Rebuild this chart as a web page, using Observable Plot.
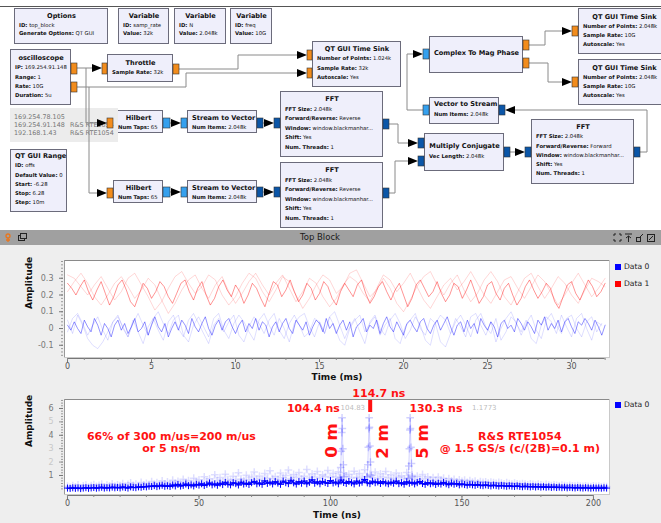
<!DOCTYPE html>
<html><head><meta charset="utf-8">
<script src="https://cdn.jsdelivr.net/npm/d3@7"></script>
<script src="https://cdn.jsdelivr.net/npm/@observablehq/plot@0.6"></script>
<style>
body{margin:0;background:#fff;}
#root{position:relative;width:661px;height:523px;overflow:hidden;font-family:"DejaVu Sans",sans-serif;background:#fff}
#flow{position:absolute;left:0;top:0;width:661px;height:230px;background:#fff;overflow:hidden}
.b{position:absolute;box-sizing:border-box;background:#efeffb;border:1px solid #6b6b7b;padding:3px 3px 0 4px;color:#111}
.t{font-weight:bold;font-size:6.6px;line-height:9.3px;text-align:center;white-space:nowrap}
.p{font-size:5.3px;line-height:9.3px;white-space:nowrap}
.info{position:absolute;left:10px;top:108px;width:108px;height:34px;background:#ececec;color:#777;font-size:6.4px;line-height:8px;padding:5px 0 0 4px;box-sizing:border-box;white-space:nowrap}
.info span{display:inline-block;width:56px}
#wires{position:absolute;left:0;top:0}
#qt{position:absolute;left:0;top:230px;width:661px;height:293px;background:#eeeeee}
#bar{position:absolute;left:0;top:230px;width:661px;height:15px;background:#a0a0a0;font-size:8.5px;color:#1a1a1a;line-height:15px}
#bar .ttl{position:absolute;left:0;width:640px;text-align:center}
.chart{position:absolute;left:0}
.lg{position:absolute;left:615px;font-size:7.6px;color:#222;line-height:10px;white-space:nowrap}
.lg i{display:inline-block;width:6px;height:6px;margin-right:3px;vertical-align:-0.5px}
</style></head>
<body><div id="root">
<div id="flow">
  <div style="position:absolute;left:0;top:6px;width:661px;height:1px;background:#555"></div>
  <div class="b" style="left:14px;top:8px;width:94px;height:36px;line-height:8.6px"><div class="t" style="line-height:8.6px">Options</div><div class="p" style="line-height:8.6px"><b>ID:</b> top_block</div><div class="p" style="line-height:8.6px"><b>Generate Options:</b> QT GUI</div></div>
  <div class="b" style="left:118px;top:8px;width:51px;height:36px"><div class="t" style="line-height:8.6px">Variable</div><div class="p" style="line-height:8.6px"><b>ID:</b> samp_rate</div><div class="p" style="line-height:8.6px"><b>Value:</b> 32k</div></div>
  <div class="b" style="left:174px;top:8px;width:52px;height:36px"><div class="t" style="line-height:8.6px">Variable</div><div class="p" style="line-height:8.6px"><b>ID:</b> N</div><div class="p" style="line-height:8.6px"><b>Value:</b> 2.048k</div></div>
  <div class="b" style="left:230px;top:8px;width:42px;height:36px"><div class="t" style="line-height:8.6px">Variable</div><div class="p" style="line-height:8.6px"><b>ID:</b> freq</div><div class="p" style="line-height:8.6px"><b>Value:</b> 10G</div></div>
  <div class="b" style="left:10px;top:49px;width:61px;height:56px;padding-top:4px"><div class="t">oscilloscope</div><div class="p"><b>IP:</b> 169.254.91.148</div><div class="p"><b>Range:</b> 1</div><div class="p"><b>Rate:</b> 10G</div><div class="p"><b>Duration:</b> 5u</div></div>
  <div class="b" style="left:107px;top:54px;width:66px;height:28px;padding-top:4px"><div class="t">Throttle</div><div class="p"><b>Sample Rate:</b> 32k</div></div>
  <div class="b" style="left:312px;top:41px;width:89px;height:46px;padding-top:3px"><div class="t">QT GUI Time Sink</div><div class="p"><b>Number of Points:</b> 1.024k</div><div class="p"><b>Sample Rate:</b> 32k</div><div class="p"><b>Autoscale:</b> Yes</div></div>
  <div class="b" style="left:429px;top:36px;width:94px;height:37px;padding-top:12px"><div class="t">Complex To Mag Phase</div></div>
  <div class="b" style="left:578px;top:8px;width:92px;height:46px;padding-top:3.5px"><div class="t" style="line-height:9px">QT GUI Time Sink</div><div class="p" style="line-height:9px"><b>Number of Points:</b> 2.048k</div><div class="p" style="line-height:9px"><b>Sample Rate:</b> 10G</div><div class="p" style="line-height:9px"><b>Autoscale:</b> Yes</div></div>
  <div class="b" style="left:578px;top:59px;width:92px;height:46px;padding-top:3.5px"><div class="t" style="line-height:9px">QT GUI Time Sink</div><div class="p" style="line-height:9px"><b>Number of Points:</b> 2.048k</div><div class="p" style="line-height:9px"><b>Sample Rate:</b> 10G</div><div class="p" style="line-height:9px"><b>Autoscale:</b> Yes</div></div>
  <div class="b" style="left:429px;top:97px;width:70px;height:27px;padding-top:2px"><div class="t" style="line-height:9.5px">Vector to Stream</div><div class="p" style="line-height:9.5px"><b>Num Items:</b> 2.048k</div></div>
  <div class="b" style="left:280px;top:91px;width:103px;height:66px;padding-top:3px"><div class="t" style="line-height:9.5px">FFT</div><div class="p" style="line-height:9.5px"><b>FFT Size:</b> 2.048k</div><div class="p" style="line-height:9.5px"><b>Forward/Reverse:</b> Reverse</div><div class="p" style="line-height:9.5px"><b>Window:</b> window.blackmanhar...</div><div class="p" style="line-height:9.5px"><b>Shift:</b> Yes</div><div class="p" style="line-height:9.5px"><b>Num. Threads:</b> 1</div></div>
  <div class="b" style="left:280px;top:162px;width:103px;height:66px;padding-top:3px"><div class="t" style="line-height:9.5px">FFT</div><div class="p" style="line-height:9.5px"><b>FFT Size:</b> 2.048k</div><div class="p" style="line-height:9.5px"><b>Forward/Reverse:</b> Reverse</div><div class="p" style="line-height:9.5px"><b>Window:</b> window.blackmanhar...</div><div class="p" style="line-height:9.5px"><b>Shift:</b> Yes</div><div class="p" style="line-height:9.5px"><b>Num. Threads:</b> 1</div></div>
  <div class="b" style="left:113px;top:110px;width:50px;height:23px;padding-top:3px"><div class="t" style="line-height:9px">Hilbert</div><div class="p" style="line-height:9px"><b>Num Taps:</b> 65</div></div>
  <div class="b" style="left:187px;top:110px;width:70px;height:23px;padding-top:3px"><div class="t" style="line-height:9px">Stream to Vector</div><div class="p" style="line-height:9px"><b>Num Items:</b> 2.048k</div></div>
  <div class="b" style="left:113px;top:180px;width:50px;height:23px;padding-top:3px"><div class="t" style="line-height:9px">Hilbert</div><div class="p" style="line-height:9px"><b>Num Taps:</b> 65</div></div>
  <div class="b" style="left:187px;top:180px;width:70px;height:23px;padding-top:3px"><div class="t" style="line-height:9px">Stream to Vector</div><div class="p" style="line-height:9px"><b>Num Items:</b> 2.048k</div></div>
  <div class="b" style="left:10px;top:149px;width:57px;height:63px;padding-top:2px"><div class="t">QT GUI Range</div><div class="p"><b>ID:</b> offs</div><div class="p"><b>Default Value:</b> 0</div><div class="p"><b>Start:</b> -6.28</div><div class="p"><b>Stop:</b> 6.28</div><div class="p"><b>Step:</b> 10m</div></div>
  <div class="b" style="left:424px;top:133px;width:80px;height:38px;padding-top:8px"><div class="t" style="line-height:9.5px">Multiply Conjugate</div><div class="p" style="line-height:9.5px"><b>Vec Length:</b> 2.048k</div></div>
  <div class="b" style="left:531px;top:119px;width:103px;height:65px;padding-top:3px"><div class="t">FFT</div><div class="p"><b>FFT Size:</b> 2.048k</div><div class="p"><b>Forward/Reverse:</b> Forward</div><div class="p"><b>Window:</b> window.blackmanhar...</div><div class="p"><b>Shift:</b> Yes</div><div class="p"><b>Num. Threads:</b> 1</div></div>
  <div class="info"><div>169.254.78.105</div><div><span>169.254.91.148</span>R&amp;S RTE1054</div><div><span>192.168.1.43</span>R&amp;S RTE1054</div></div>
  <svg id="wires" width="661" height="230">
    <g fill="none" stroke="#8a8a8a" stroke-width="1">
      <polyline points="77,68 93,68"/>
      <polyline points="86,68 86,123 98,123"/>
      <polyline points="77,87 186,87 186,73 298,73"/>
      <polyline points="89,87 89,193 98,193"/>
      <polyline points="179,69 238,69 238,55 298,55"/>
      <polyline points="170,123 172,123"/>
      <polyline points="263,123 265,123"/>
      <polyline points="170,192 172,192"/>
      <polyline points="263,192 265,192"/>
      <polyline points="389,124 398,124 398,143 409,143"/>
      <polyline points="389,193 395,193 395,161 409,161"/>
      <polyline points="510,152 517,152"/>
      <polyline points="640,152 647,152 647,110 514,110"/>
      <polyline points="423,110 407,110 407,54 414,54"/>
      <polyline points="529,45 545,45 545,31 563,31"/>
      <polyline points="529,63 548,63 548,82 563,82"/>
    </g>
    <g fill="#000">
      <polygon points="102,68 92,64 92,72"/>
      <polygon points="107,123 97,119 97,127"/>
      <polygon points="307,73 297,69 297,77"/>
      <polygon points="107,193 97,189 97,197"/>
      <polygon points="307,55 297,51 297,59"/>
      <polygon points="181,123 171,119 171,127"/>
      <polygon points="274,123 264,119 264,127"/>
      <polygon points="181,192 171,188 171,196"/>
      <polygon points="274,192 264,188 264,196"/>
      <polygon points="418,143 408,139 408,147"/>
      <polygon points="418,161 408,157 408,165"/>
      <polygon points="525,152 515,148 515,156"/>
      <polygon points="505,110 515,106 515,114"/>
      <polygon points="423,54 413,50 413,58"/>
      <polygon points="572,31 562,27 562,35"/>
      <polygon points="572,82 562,78 562,86"/>
    </g>
    <g stroke="#333" stroke-width="0.6">
      <rect x="71" y="63" width="6" height="11" fill="#f28c1c"/>
      <rect x="71" y="82" width="6" height="10" fill="#f28c1c"/>
      <rect x="102" y="63" width="5" height="11" fill="#f28c1c"/>
      <rect x="173" y="64" width="6" height="10" fill="#f28c1c"/>
      <rect x="307" y="50" width="5" height="10" fill="#f28c1c"/>
      <rect x="307" y="68" width="5" height="10" fill="#f28c1c"/>
      <rect x="107" y="118" width="6" height="10" fill="#f28c1c"/>
      <rect x="163" y="118" width="7" height="10" fill="#35a0ee"/>
      <rect x="181" y="118" width="6" height="10" fill="#35a0ee"/>
      <rect x="257" y="118" width="6" height="10" fill="#0b56a8"/>
      <rect x="274" y="118" width="6" height="10" fill="#0b56a8"/>
      <rect x="383" y="119" width="6" height="10" fill="#0b56a8"/>
      <rect x="107" y="188" width="6" height="10" fill="#f28c1c"/>
      <rect x="163" y="187" width="7" height="10" fill="#35a0ee"/>
      <rect x="181" y="187" width="6" height="10" fill="#35a0ee"/>
      <rect x="257" y="187" width="6" height="10" fill="#0b56a8"/>
      <rect x="274" y="187" width="6" height="10" fill="#0b56a8"/>
      <rect x="383" y="188" width="6" height="10" fill="#0b56a8"/>
      <rect x="418" y="138" width="6" height="10" fill="#0b56a8"/>
      <rect x="418" y="156" width="6" height="10" fill="#0b56a8"/>
      <rect x="504" y="147" width="6" height="10" fill="#0b56a8"/>
      <rect x="525" y="147" width="6" height="10" fill="#0b56a8"/>
      <rect x="634" y="147" width="6" height="10" fill="#0b56a8"/>
      <rect x="423" y="105" width="6" height="10" fill="#35a0ee"/>
      <rect x="499" y="105" width="6" height="10" fill="#0b56a8"/>
      <rect x="423" y="49" width="6" height="10" fill="#35a0ee"/>
      <rect x="523" y="40" width="6" height="10" fill="#f28c1c"/>
      <rect x="523" y="58" width="6" height="10" fill="#f28c1c"/>
      <rect x="572" y="26" width="6" height="10" fill="#f28c1c"/>
      <rect x="572" y="77" width="6" height="10" fill="#f28c1c"/>
    </g>
  </svg>
</div>
<div id="qt"></div>
<div id="bar"><svg width="661" height="15" style="position:absolute;left:0;top:0">
  <g fill="none" stroke="#e8761e" stroke-width="1.3"><circle cx="8" cy="6" r="2"/><path d="M8 8 L8 12 M6 10 L10 10"/></g>
  <g fill="none" stroke="#222" stroke-width="1"><rect x="18.5" y="5.5" width="6" height="5"/><rect x="20.5" y="3.5" width="6" height="5" fill="#a0a0a0"/></g>
  <g fill="none" stroke="#222" stroke-width="1"><path d="M614 4 h2 M614 4 v2 M621 4 h-2 M621 4 v2 M614 11 h2 M614 11 v-2 M621 11 h-2 M621 11 v-2"/><path d="M625 4 h7 M628.5 6 v6 M626 8 l2.5 -2 l2.5 2"/><rect x="636.5" y="7.5" width="4" height="4"/><path d="M640 7 l3 -3"/><rect x="647.5" y="4.5" width="7" height="7"/><path d="M649 10 l4 -4"/></g>
</svg><div class="ttl">Top Block</div></div>
<div id="chart1" class="chart" style="top:250px"></div>
<div id="chart2" class="chart" style="top:385px"></div>
<div class="lg" style="top:262px"><i style="background:#0000ff"></i>Data 0</div>
<div class="lg" style="top:279px"><i style="background:#ff0000"></i>Data 1</div>
<div class="lg" style="top:400px"><i style="background:#0000ff"></i>Data 0</div>
</div>
<script>
// ---- sample spacing (ms for the upper scope trace, ns for the lower one)
const blueMainStep = 0.2, blueFaintStep = 0.3, redMainStep = 0.25, redFaintStep = 0.4, scopeStep = 1;

// ---- upper plot: Data 0 (blue) persistence traces
const blueMain = [0.02,-0.01,0.04,0.00,-0.03,0.05,0.01,-0.02,0.06,0.02,
-0.04,0.03,0.00,-0.05,0.02,0.05,-0.01,0.03,-0.03,0.01,
0.06,-0.02,0.00,0.04,-0.04,0.02,0.07,0.01,-0.02,0.03,
-0.05,0.00,0.04,-0.01,0.05,0.02,-0.03,0.06,0.01,-0.02,
0.03,0.07,0.00,-0.04,0.02,0.05,-0.01,0.04,0.06,0.01,
-0.03,0.02,0.05,-0.02,0.03,0.00,0.06,-0.01,0.04,0.02,
-0.05,0.01,0.04,-0.02,0.03,0.06,0.00,-0.03,0.05,0.02,
-0.01,0.04,-0.04,0.01,0.05,0.03,-0.02,0.06,0.00,0.03,
-0.03,0.02,0.05,-0.01,0.04,-0.05,0.01,0.03,0.06,-0.02,
0.02,0.00,0.05,-0.03,0.03,0.07,0.01,-0.02,0.04,0.00,
-0.04,0.03,0.05,0.01,-0.02,0.04,0.06,0.00,-0.03,0.02,
0.05,-0.01,0.03,0.07,0.01,-0.04,0.02,0.04,-0.02,0.05,
0.00,0.03,-0.03,0.06,0.02,-0.01,0.04,0.01,-0.05,0.03,
0.05,0.00,0.02,-0.02,0.06,0.03,-0.01,0.04,0.01,-0.03,
0.05,0.02,0.07,-0.01,0.03,0.00,0.05,-0.02,0.04,0.06,
0.01,-0.03,0.04,0.02,0.06,0.03,-0.01,0.05,0.01,-0.04,0.02];
const blueFaintA = [0.05,-0.03,0.08,0.02,-0.06,-0.10,-0.12,-0.08,-0.02,0.04,
0.07,0.01,-0.05,0.03,0.09,0.02,-0.04,0.06,-0.01,-0.07,
0.04,0.08,0.00,-0.05,0.05,0.09,0.03,-0.03,-0.09,0.02,
0.06,-0.02,0.04,0.08,-0.04,-0.08,0.01,0.07,0.03,-0.03,
0.05,0.09,-0.01,-0.06,0.03,0.08,0.02,-0.05,-0.02,0.06,
0.04,-0.03,0.07,0.01,-0.07,-0.10,0.00,0.05,0.08,-0.02,
0.03,0.07,-0.04,0.02,0.06,-0.06,-0.09,0.01,0.05,0.09,
0.00,-0.04,0.06,0.03,-0.08,-0.11,-0.03,0.04,0.08,0.02,
-0.05,0.05,0.09,0.01,-0.03,0.06,-0.07,-0.02,0.07,0.04,
-0.04,0.03,0.08,-0.01,-0.06,0.05,0.09,0.02,-0.03,0.06,
0.08,0.00,-0.05,0.04,0.07,-0.02,0.03];
const blueFaintB = [-0.02,0.06,0.09,0.03,-0.04,0.02,0.07,-0.01,-0.07,0.04,
0.08,0.00,-0.05,0.05,-0.02,-0.09,0.01,0.06,0.10,0.03,
-0.03,0.05,0.08,-0.04,-0.08,0.02,0.07,0.01,-0.05,0.06,
0.09,-0.01,-0.06,0.03,0.08,0.04,-0.02,-0.07,0.05,0.09,
0.02,-0.04,0.06,0.00,-0.08,0.03,0.07,0.09,0.01,-0.05,
0.04,-0.03,0.07,0.10,0.02,-0.06,0.01,0.06,-0.02,-0.09,
0.04,0.08,0.00,-0.04,0.05,0.09,0.03,-0.06,-0.01,0.07,
0.02,-0.07,-0.10,0.03,0.08,0.05,-0.03,0.06,0.01,-0.05,
0.07,0.09,0.02,-0.04,0.04,-0.08,0.00,0.06,0.10,0.03,
-0.02,0.05,-0.06,-0.09,0.02,0.07,0.04,-0.03,0.08,0.01,
-0.05,0.06,0.09,0.00,-0.07,0.04,0.02];

// ---- upper plot: Data 1 (red) persistence traces
const redMain = [0.27,0.24,0.20,0.25,0.29,0.22,0.17,0.23,0.28,0.21,
0.14,0.19,0.26,0.29,0.23,0.16,0.13,0.20,0.27,0.24,
0.18,0.22,0.28,0.25,0.19,0.15,0.21,0.27,0.29,0.22,
0.17,0.24,0.28,0.20,0.14,0.18,0.25,0.29,0.23,0.19,
0.26,0.22,0.15,0.20,0.27,0.24,0.18,0.13,0.21,0.28,
0.26,0.19,0.23,0.29,0.22,0.16,0.20,0.27,0.24,0.17,
0.21,0.28,0.25,0.18,0.14,0.22,0.27,0.23,0.19,0.26,
0.29,0.21,0.15,0.19,0.25,0.28,0.22,0.17,0.23,0.27,
0.20,0.13,0.18,0.26,0.29,0.24,0.19,0.22,0.28,0.21,
0.16,0.20,0.27,0.25,0.18,0.23,0.29,0.22,0.15,0.19,
0.26,0.28,0.21,0.17,0.24,0.27,0.20,0.14,0.18,0.25,
0.29,0.23,0.18,0.22,0.27,0.24,0.16,0.12,0.19,0.26,
0.28,0.21,0.17,0.23,0.29,0.25,0.19,0.22,0.27];
const redFaintA = [0.32,0.30,0.25,0.20,0.26,0.31,0.24,0.17,0.22,0.30,
0.33,0.26,0.19,0.11,0.16,0.24,0.31,0.34,0.27,0.21,
0.25,0.32,0.29,0.20,0.14,0.19,0.27,0.33,0.30,0.22,
0.16,0.23,0.31,0.28,0.20,0.12,0.18,0.26,0.32,0.29,
0.21,0.25,0.33,0.35,0.27,0.19,0.23,0.30,0.24,0.15,
0.10,0.17,0.25,0.31,0.34,0.26,0.20,0.27,0.32,0.23,
0.16,0.21,0.29,0.34,0.28,0.19,0.14,0.22,0.30,0.33,
0.25,0.18,0.24,0.31,0.27,0.20,0.15,0.23,0.30,0.28,0.25];
const redFaintB = [0.22,0.28,0.33,0.27,0.19,0.14,0.20,0.27,0.31,0.25,
0.18,0.23,0.30,0.26,0.17,0.09,0.15,0.23,0.29,0.32,
0.24,0.18,0.26,0.31,0.22,0.15,0.21,0.28,0.33,0.26,
0.20,0.27,0.32,0.24,0.16,0.22,0.30,0.27,0.19,0.13,
0.18,0.26,0.31,0.28,0.21,0.16,0.24,0.32,0.29,0.22,
0.27,0.33,0.25,0.17,0.12,0.19,0.26,0.30,0.23,0.28,
0.34,0.27,0.20,0.15,0.22,0.29,0.31,0.24,0.18,0.25,
0.32,0.28,0.21,0.14,0.20,0.27,0.33,0.26,0.19,0.24,0.30];

// ---- lower plot: cross-correlation magnitude (Data 0)
const scopeMain = [0.06,0.03,0.08,0.04,0.07,0.02,0.06,0.09,0.04,0.07,
0.10,0.05,0.08,0.12,0.06,0.09,0.07,0.13,0.08,0.11,
0.07,0.14,0.10,0.06,0.15,0.11,0.09,0.15,0.12,0.17,
0.15,0.20,0.18,0.24,0.17,0.22,0.27,0.19,0.23,0.18,
0.29,0.22,0.33,0.21,0.26,0.36,0.24,0.30,0.22,0.34,
0.28,0.38,0.25,0.34,0.44,0.30,0.37,0.27,0.42,0.32,
0.49,0.35,0.30,0.46,0.39,0.29,0.50,0.36,0.42,0.33,
0.46,0.56,0.38,0.44,0.34,0.60,0.41,0.50,0.37,0.54,
0.43,0.34,0.58,0.46,0.39,0.64,0.45,0.36,0.54,0.42,
0.59,0.38,0.49,0.68,0.42,0.53,0.38,0.56,0.47,0.40,
0.62,0.44,0.51,0.38,0.66,0.48,0.41,0.55,0.46,0.37,
0.58,0.43,0.50,0.70,0.45,0.39,0.57,0.46,0.52,0.40,
0.54,0.44,0.38,0.50,0.42,0.58,0.39,0.46,0.35,0.53,
0.42,0.49,0.37,0.46,0.55,0.40,0.34,0.47,0.38,0.44,
0.33,0.42,0.36,0.48,0.38,0.31,0.43,0.35,0.40,0.30,
0.37,0.32,0.28,0.34,0.30,0.26,0.33,0.27,0.24,0.30,
0.26,0.22,0.28,0.24,0.21,0.26,0.22,0.19,0.23,0.20,
0.18,0.22,0.18,0.16,0.20,0.17,0.15,0.18,0.14,0.17,
0.13,0.16,0.12,0.15,0.11,0.14,0.10,0.13,0.09,0.12,
0.08,0.11,0.09,0.07,0.10,0.08,0.06,0.09,0.07,0.05,
0.08,0.06,0.07,0.05,0.08,0.06];
const scopeFaint = [0.20,0.12,0.25,0.15,0.30,0.10,0.22,0.28,0.14,0.24,
0.32,0.18,0.26,0.35,0.16,0.29,0.22,0.38,0.20,0.31,
0.25,0.40,0.19,0.33,0.45,0.27,0.36,0.23,0.48,0.30,
0.42,0.26,0.55,0.34,0.47,0.29,0.60,0.38,0.52,0.33,
0.65,0.41,0.57,0.36,0.72,0.45,0.62,0.39,0.80,0.50,
0.68,0.44,0.90,0.55,0.75,0.48,1.05,0.62,0.84,0.53,
1.10,0.70,0.58,0.95,0.66,1.20,0.74,0.61,1.02,0.69,
0.88,1.25,0.72,0.96,0.64,1.15,0.80,1.35,0.76,0.92,
0.70,1.18,0.83,0.99,1.40,0.78,1.08,0.86,1.22,0.75,
0.94,1.45,0.82,1.12,0.88,1.30,0.79,1.05,0.92,1.38,
0.85,1.16,0.90,1.28,0.83,1.20,0.95,1.10,0.80,1.32,
0.87,1.15,0.78,1.42,0.92,1.08,0.84,1.25,0.76,1.12,
0.88,1.30,0.81,1.05,0.74,1.18,0.86,0.98,0.72,1.22,
0.79,1.02,0.70,0.95,0.66,1.08,0.75,0.90,0.63,0.84,
0.58,0.88,0.62,0.80,0.55,0.76,0.60,0.72,0.52,0.68,
0.56,0.65,0.48,0.62,0.51,0.58,0.45,0.55,0.49,0.52,
0.43,0.50,0.46,0.41,0.48,0.44,0.38,0.46,0.40,0.36,
0.43,0.38,0.34,0.40,0.35,0.31,0.37,0.33,0.29,0.35,
0.30,0.27,0.33,0.28,0.25,0.31,0.26,0.23,0.29,0.24,
0.21,0.27,0.22,0.20,0.25,0.21,0.18,0.23,0.19,0.17,
0.22,0.18,0.20,0.16,0.19,0.17];
// echo peaks (finely sampled around each reflection)
const peakTimes  = [103.6,103.9,104.1,104.3,104.4,104.5,104.7,104.9,105.2,
                    113.9,114.2,114.4,114.6,114.7,114.8,115.0,115.2,115.5,
                    129.5,129.8,130.0,130.2,130.3,130.4,130.6,130.8,131.1];
const peakValues = [0.8,1.6,2.8,4.2,5.3,4.5,3.0,1.8,0.9,
                    0.9,1.8,3.1,4.5,5.3,4.6,3.2,2.0,1.0,
                    0.8,1.7,3.0,4.4,5.3,4.5,3.1,1.9,0.9];
const peakGroup  = [0,0,0,0,0,0,0,0,0, 1,1,1,1,1,1,1,1,1, 2,2,2,2,2,2,2,2,2];

// ---- annotations on the lower plot
const noteText = ["114.7 ns","104.4 ns","130.3 ns","66% of 300 m/us=200 m/us","or 5 ns/m","R&S RTE1054","@ 1.5 GS/s (c/(2B)=0.1 m)"];
const noteX = [118.4, 93.5, 140.1, 39.5, 39.5, 172.0, 172.0];
const noteY = [7.12, 6.0, 6.0, 3.9, 2.98, 3.9, 2.98];
const distText = ["0 m","2 m","5 m"];
const distX = [100.4, 119.8, 135.0];
const distY = [3.6, 3.54, 3.54];
const markerNs = [115.1], markerLow = [5.7], markerHigh = [6.6];
const readoutText = ["104.83", "1.1773"];
const readoutX = [108.5, 158.5];
const readoutY = [6.05, 6.05];

// ---- axes
const msDomain = [-0.18, 32.26], ampTopDomain = [-0.173, 0.406];
const nsDomain = [-1.14, 206.1], ampBottomDomain = [-0.42, 6.67];
const msTicks = [0,5,10,15,20,25,30];
const msMinor = d3.range(0, 33, 1);
const ampTopTicks = [-0.1,0,0.1,0.2,0.3];
const ampTopMinor = d3.range(-0.16, 0.41, 0.02);
const nsTicks = [0,50,100,150,200];
const nsMinor = d3.range(0, 206, 10);
const ampBottomStrong = [1,4,6];
const ampBottomPale = [2,3,5];
const ampBottomMinor = d3.range(0, 6.61, 0.2);
const axisTitles = {top: ["Time (ms)", "Amplitude"], bottom: ["Time (ns)", "Amplitude"]};

const mk = (vals, step) => vals.map((v, i) => ({t: i * step, v}));
const fmt = d => String(Math.round(d * 10) / 10);
const font = "DejaVu Sans";
const style = {fontFamily: font, fontSize: "8px", background: "transparent", overflow: "visible"};

function scaffold(xDom, yDom, xTicks, xMinor, yMinor, titles, titleDy) {
  return [
    Plot.frame({fill: "#fff", stroke: "#c9c9c9"}),
    Plot.ruleY([yDom[1]], {stroke: "#8a8a8a"}),
    Plot.ruleX([xDom[0]], {stroke: "#9a9a9a"}),
    Plot.ruleY([{y: yDom[0], x1: xTicks[0], x2: xMinor[xMinor.length - 1]}], {y: "y", x1: "x1", x2: "x2", dy: 1, stroke: "#777"}),
    Plot.axisX({ticks: xTicks, tickSize: 4, tickPadding: 1, dy: 1, stroke: "#777", fill: "#555", fontSize: 8, label: null}),
    Plot.axisX({ticks: xMinor, tickSize: 2, dy: 1, stroke: "#888", fill: "none", label: null}),
    Plot.axisY({ticks: yMinor, tickSize: 2, dx: -1, stroke: "#999", fill: "none", label: null}),
    Plot.text([titles[0]], {text: d => d, frameAnchor: "bottom", dy: titleDy, fontWeight: "bold", fontSize: 9, fill: "#111", fontFamily: font}),
    Plot.text([titles[1]], {text: d => d, frameAnchor: "left", dx: -35, rotate: -90, fontWeight: "bold", fontSize: 9, fill: "#111", fontFamily: font})
  ];
}

const chart1 = Plot.plot({
  width: 661, height: 135, marginLeft: 64, marginRight: 52, marginTop: 10, marginBottom: 28,
  style,
  x: {domain: msDomain, label: null},
  y: {domain: ampTopDomain, label: null},
  marks: [
    ...scaffold(msDomain, ampTopDomain, msTicks, msMinor, ampTopMinor, axisTitles.top, 22),
    Plot.axisY({ticks: ampTopTicks, tickSize: 4, tickPadding: 6, dx: -1, stroke: "#777", fill: "#777", fontSize: 8, tickFormat: fmt, label: null}),
    Plot.line(mk(redFaintA, redFaintStep), {x: "t", y: "v", stroke: "#ff0000", strokeOpacity: 0.16, strokeWidth: 1}),
    Plot.line(mk(redFaintB, redFaintStep), {x: "t", y: "v", stroke: "#ff0000", strokeOpacity: 0.16, strokeWidth: 1}),
    Plot.line(mk(redMain, redMainStep), {x: "t", y: "v", stroke: "#ff0000", strokeOpacity: 0.42, strokeWidth: 1}),
    Plot.line(mk(blueFaintA, blueFaintStep), {x: "t", y: "v", stroke: "#0000ff", strokeOpacity: 0.13, strokeWidth: 1}),
    Plot.line(mk(blueFaintB, blueFaintStep), {x: "t", y: "v", stroke: "#0000ff", strokeOpacity: 0.13, strokeWidth: 1}),
    Plot.line(mk(blueMain, blueMainStep), {x: "t", y: "v", stroke: "#0000ff", strokeOpacity: 0.42, strokeWidth: 1})
  ]
});
document.getElementById("chart1").append(chart1);

const peaks = peakTimes.map((t, i) => ({t, v: peakValues[i], g: peakGroup[i]}));
const notes = noteText.map((s, i) => ({s, x: noteX[i], y: noteY[i]}));
const dists = distText.map((s, i) => ({s, x: distX[i], y: distY[i]}));
const readouts = readoutText.map((s, i) => ({s, x: readoutX[i], y: readoutY[i], a: i ? "end" : "start"}));
const markers = markerNs.map((x, i) => ({x, y1: markerLow[i], y2: markerHigh[i]}));
const red = "#ff1212";

const chart2 = Plot.plot({
  width: 661, height: 138, marginLeft: 64, marginRight: 52, marginTop: 14, marginBottom: 29,
  style,
  x: {domain: nsDomain, label: null},
  y: {domain: ampBottomDomain, label: null},
  marks: [
    ...scaffold(nsDomain, ampBottomDomain, nsTicks, nsMinor, ampBottomMinor, axisTitles.bottom, 23),
    Plot.axisY({ticks: ampBottomStrong, tickSize: 4, tickPadding: 6, dx: -1, stroke: "#777", fill: "#777", fontSize: 8, label: null}),
    Plot.axisY({ticks: ampBottomPale, tickSize: 4, tickPadding: 6, dx: -1, stroke: "#999", fill: "#c8c8c8", fontSize: 8, label: null}),
    Plot.line(mk(scopeFaint, scopeStep), {x: "t", y: "v", stroke: "#0000ff", strokeOpacity: 0.06, strokeWidth: 1}),
    Plot.dot(mk(scopeFaint, scopeStep), {x: "t", y: "v", symbol: "plus", r: 2.6, stroke: "#0000ff", strokeOpacity: 0.13, fill: "none"}),
    Plot.line(peaks, {x: "t", y: "v", z: "g", stroke: "#0000ff", strokeOpacity: 0.18, strokeWidth: 1}),
    Plot.dot(peaks, {x: "t", y: "v", symbol: "plus", r: 2.6, stroke: "#0000ff", strokeOpacity: 0.18, fill: "none"}),
    Plot.line(mk(scopeMain, scopeStep), {x: "t", y: "v", stroke: "#0000ff", strokeWidth: 1.4}),
    Plot.dot(mk(scopeMain, scopeStep), {x: "t", y: "v", symbol: "plus", r: 2.4, stroke: "#0000ff", strokeWidth: 1, fill: "none"}),
    Plot.text(readouts, {x: "x", y: "y", text: "s", textAnchor: "a", fill: "#aaa", fillOpacity: 0.8, fontSize: 7, fontFamily: font}),
    Plot.ruleX(markers, {x: "x", y1: "y1", y2: "y2", stroke: red, strokeWidth: 4}),
    Plot.text(notes, {x: "x", y: "y", text: "s", fill: red, fontWeight: "bold", fontSize: 11, fontFamily: font}),
    Plot.text(dists, {x: "x", y: "y", text: "s", rotate: -90, fill: red, fontWeight: "bold", fontSize: 16.5, fontFamily: font})
  ]
});
document.getElementById("chart2").append(chart2);
</script>
</body></html>
